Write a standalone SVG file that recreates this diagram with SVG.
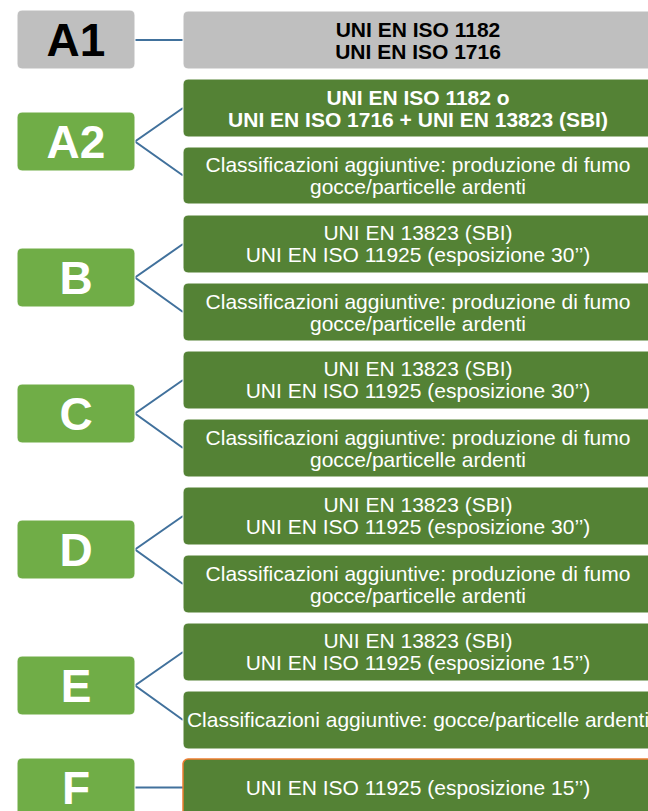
<svg xmlns="http://www.w3.org/2000/svg" width="648" height="811" viewBox="0 0 648 811">
<style>
  .lbl { fill:#70AD47; stroke:#ffffff; stroke-width:1; }
  .lblg { fill:#BFBFBF; stroke:#ffffff; stroke-width:1; }
  .box { fill:#548235; stroke:#ffffff; stroke-width:1; }
  .boxg { fill:#BFBFBF; stroke:#ffffff; stroke-width:1; }
  .boxo { fill:#548235; stroke:#ED7D31; stroke-width:1.5; }
  .big { font-family:"Liberation Sans", Arial, sans-serif; font-weight:bold; font-size:46px; text-anchor:middle; fill:#ffffff; }
  .bigk { fill:#000000; }
  .t { font-family:"Liberation Sans", Arial, sans-serif; font-size:21px; text-anchor:middle; fill:#ffffff; }
  .tb { font-weight:bold; }
  .tk { fill:#000000; }
  .conn { stroke:#41719C; stroke-width:2; fill:none; }
</style>
<rect width="648" height="811" fill="#ffffff"/>

<g id="connectors">
  <line class="conn" x1="135" y1="40" x2="183" y2="40"/>
  <polyline class="conn" points="183,108 135,141.5 183,175.5"/>
  <polyline class="conn" points="183,244 135,277.5 183,312"/>
  <polyline class="conn" points="183,380 135,413.5 183,448"/>
  <polyline class="conn" points="183,516 135,549.5 183,584"/>
  <polyline class="conn" points="183,652 135,685.5 183,720"/>
  <line class="conn" x1="135" y1="787.5" x2="183" y2="787.5"/>
</g>

<g id="A1">
  <rect class="lblg" x="17" y="10" width="118" height="59" rx="5"/>
  <text class="big bigk" x="76" y="56">A1</text>
</g>
<g id="A1-desc">
  <rect class="boxg" x="183" y="11" width="470" height="58" rx="5"/>
  <text class="t tb tk" x="418" y="36.5">UNI EN ISO 1182</text>
  <text class="t tb tk" x="418" y="58.5">UNI EN ISO 1716</text>
</g>

<g id="A2">
  <rect class="lbl" x="17" y="112" width="118" height="59" rx="5"/>
  <text class="big" x="76" y="158">A2</text>
</g>
<g id="A2-desc1">
  <rect class="box" x="183" y="79" width="470" height="58" rx="5"/>
  <text class="t tb" x="418" y="104.5">UNI EN ISO 1182 o</text>
  <text class="t tb" x="418" y="126.5">UNI EN ISO 1716 + UNI EN 13823 (SBI)</text>
</g>
<g id="A2-desc2">
  <rect class="box" x="183" y="147" width="470" height="57" rx="5"/>
  <text class="t" x="418" y="172">Classificazioni aggiuntive: produzione di fumo</text>
  <text class="t" x="418" y="194">gocce/particelle ardenti</text>
</g>

<g id="B">
  <rect class="lbl" x="17" y="248" width="118" height="59" rx="5"/>
  <text class="big" x="76" y="294">B</text>
</g>
<g id="B-desc1">
  <rect class="box" x="183" y="215" width="470" height="58" rx="5"/>
  <text class="t" x="418" y="240">UNI EN 13823 (SBI)</text>
  <text class="t" x="418" y="262">UNI EN ISO 11925 (esposizione 30’’)</text>
</g>
<g id="B-desc2">
  <rect class="box" x="183" y="283" width="470" height="58" rx="5"/>
  <text class="t" x="418" y="308.5">Classificazioni aggiuntive: produzione di fumo</text>
  <text class="t" x="418" y="330.5">gocce/particelle ardenti</text>
</g>

<g id="C">
  <rect class="lbl" x="17" y="384" width="118" height="59" rx="5"/>
  <text class="big" x="76" y="430">C</text>
</g>
<g id="C-desc1">
  <rect class="box" x="183" y="351" width="470" height="58" rx="5"/>
  <text class="t" x="418" y="376">UNI EN 13823 (SBI)</text>
  <text class="t" x="418" y="398">UNI EN ISO 11925 (esposizione 30’’)</text>
</g>
<g id="C-desc2">
  <rect class="box" x="183" y="419" width="470" height="58" rx="5"/>
  <text class="t" x="418" y="444.5">Classificazioni aggiuntive: produzione di fumo</text>
  <text class="t" x="418" y="466.5">gocce/particelle ardenti</text>
</g>

<g id="D">
  <rect class="lbl" x="17" y="520" width="118" height="59" rx="5"/>
  <text class="big" x="76" y="566">D</text>
</g>
<g id="D-desc1">
  <rect class="box" x="183" y="487" width="470" height="58" rx="5"/>
  <text class="t" x="418" y="512">UNI EN 13823 (SBI)</text>
  <text class="t" x="418" y="534">UNI EN ISO 11925 (esposizione 30’’)</text>
</g>
<g id="D-desc2">
  <rect class="box" x="183" y="555" width="470" height="58" rx="5"/>
  <text class="t" x="418" y="580.5">Classificazioni aggiuntive: produzione di fumo</text>
  <text class="t" x="418" y="602.5">gocce/particelle ardenti</text>
</g>

<g id="E">
  <rect class="lbl" x="17" y="656" width="118" height="59" rx="5"/>
  <text class="big" x="76" y="702">E</text>
</g>
<g id="E-desc1">
  <rect class="box" x="183" y="623" width="470" height="58" rx="5"/>
  <text class="t" x="418" y="648">UNI EN 13823 (SBI)</text>
  <text class="t" x="418" y="670">UNI EN ISO 11925 (esposizione 15’’)</text>
</g>
<g id="E-desc2">
  <rect class="box" x="183" y="691" width="470" height="58" rx="5"/>
  <text class="t" x="418" y="727">Classificazioni aggiuntive: gocce/particelle ardenti</text>
</g>

<g id="F">
  <rect class="lbl" x="17" y="758" width="118" height="59" rx="5"/>
  <text class="big" x="76" y="804">F</text>
</g>
<g id="F-desc">
  <rect class="boxo" x="183" y="759" width="470" height="58" rx="5"/>
  <text class="t" x="418" y="795">UNI EN ISO 11925 (esposizione 15’’)</text>
</g>
</svg>
